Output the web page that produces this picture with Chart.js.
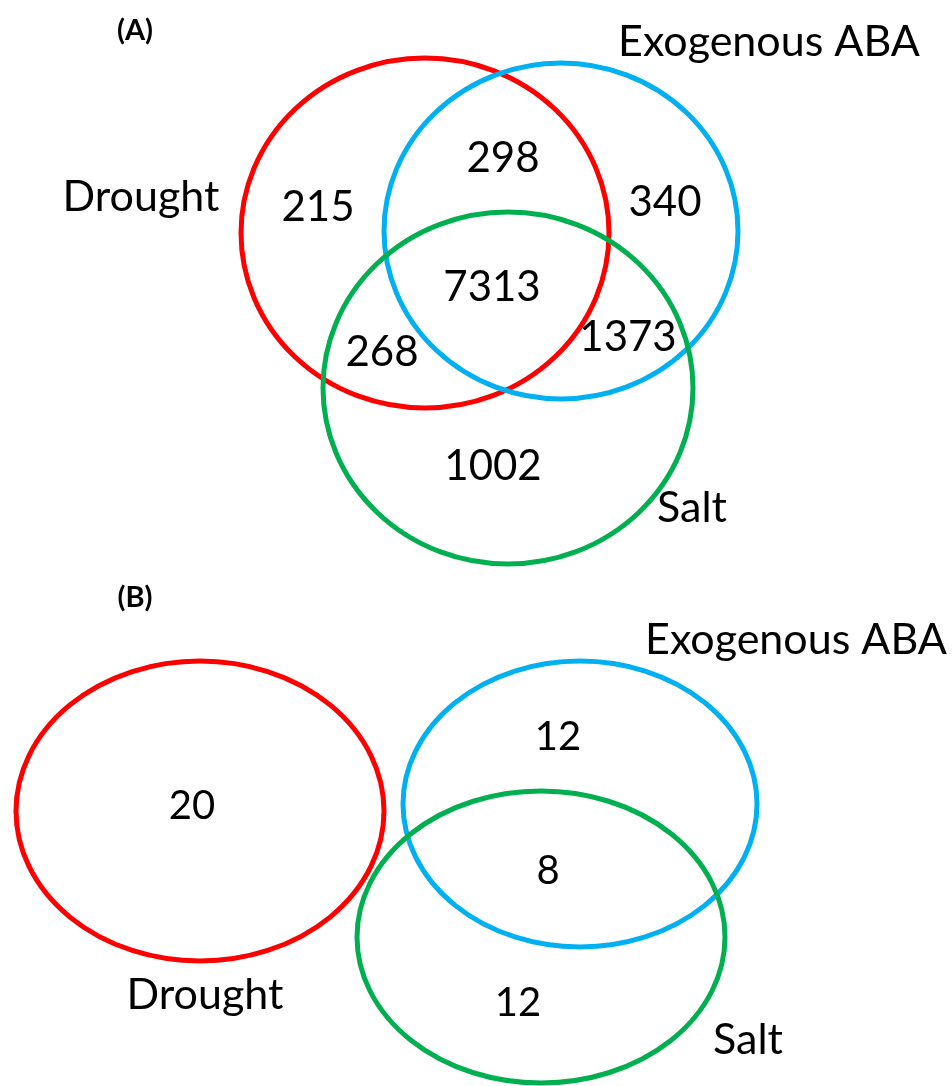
<!DOCTYPE html>
<html>
<head>
<meta charset="utf-8">
<title>Venn diagrams: Drought, Exogenous ABA, Salt</title>
<script src="https://cdn.jsdelivr.net/npm/chart.js@4/dist/chart.umd.min.js"></script>
<style>
  html, body { margin: 0; padding: 0; background: #ffffff; }
  #wrap { width: 952px; height: 1086px; }
</style>
</head>
<body>
<div id="wrap"><canvas id="venn" width="952" height="1086"></canvas></div>
<script>
// ---- data ----
const setNames = ['Drought', 'Exogenous ABA', 'Salt'];
const panelTags = ['(A)', '(B)'];
// Panel A region counts: D only, D∩A, A only, D∩A∩S, D∩S, A∩S, S only
const regionsA = ['D', 'DA', 'A', 'DAS', 'DS', 'AS', 'S'];
const countsA = [215, 298, 340, 7313, 268, 1373, 1002];
// Panel B region counts: D only, A only, A∩S, S only
const regionsB = ['D', 'A', 'AS', 'S'];
const countsB = [20, 12, 8, 12];

// ---- layout (canvas units, y grows downward) ----
const setColors = ['#ff0000', '#00b0f0', '#00b050'];
const ellipsesA = [
  { cx: 425, cy: 233, rx: 184, ry: 175 },
  { cx: 561, cy: 231, rx: 177, ry: 168 },
  { cx: 508, cy: 388, rx: 185, ry: 176 }
];
const ellipsesB = [
  { cx: 200, cy: 811, rx: 184, ry: 150 },
  { cx: 580, cy: 804, rx: 177, ry: 143 },
  { cx: 541, cy: 937, rx: 184, ry: 146 }
];
const countPosA = {
  D: [318, 207], DA: [503, 158], A: [665, 202], DAS: [492, 287],
  DS: [382, 352], AS: [628, 337], S: [493, 466]
};
const countPosB = { D: [192, 806], A: [558, 737], AS: [548, 871], S: [518, 1003] };
const nameposA = [[141, 197], [769, 42], [692, 508]];
const nameposB = [[205, 995], [796, 640], [748, 1040]];
const tagPos = [[135, 31], [135, 598]];

const FONT = 'Lato, "Open Sans", "DejaVu Sans", sans-serif';

function countPoints(keys, counts, pos) {
  return keys.map((k, i) => ({ x: pos[k][0], y: pos[k][1], v: counts[i] }));
}

const vennPlugin = {
  id: 'vennDraw',
  afterDatasetsDraw(chart) {
    const { ctx, scales } = chart;
    const sx = scales.x, sy = scales.y;
    ctx.save();
    // set outlines
    [ellipsesA, ellipsesB].forEach(list => {
      list.forEach((e, i) => {
        const cx = sx.getPixelForValue(e.cx);
        const cy = sy.getPixelForValue(e.cy);
        const rx = Math.abs(sx.getPixelForValue(e.cx + e.rx) - cx);
        const ry = Math.abs(sy.getPixelForValue(e.cy + e.ry) - cy);
        ctx.beginPath();
        ctx.ellipse(cx, cy, rx, ry, 0, 0, Math.PI * 2);
        ctx.lineWidth = 5;
        ctx.strokeStyle = setColors[i];
        ctx.stroke();
      });
    });
    // region counts
    ctx.fillStyle = '#000000';
    ctx.textAlign = 'center';
    ctx.textBaseline = 'middle';
    chart.data.datasets.forEach((ds, di) => {
      const meta = chart.getDatasetMeta(di);
      ctx.font = ds.labelFont;
      meta.data.forEach((pt, j) => {
        ctx.fillText(String(ds.data[j].v), pt.x, pt.y);
      });
    });
    // set names
    ctx.font = '43px ' + FONT;
    [nameposA, nameposB].forEach(list => {
      list.forEach((p, i) => {
        ctx.fillText(setNames[i], sx.getPixelForValue(p[0]), sy.getPixelForValue(p[1]));
      });
    });
    // panel tags
    ctx.font = 'bold 29px ' + FONT;
    tagPos.forEach((p, i) => {
      ctx.fillText(panelTags[i], sx.getPixelForValue(p[0]), sy.getPixelForValue(p[1]));
    });
    ctx.restore();
  }
};

new Chart(document.getElementById('venn'), {
  type: 'scatter',
  data: {
    datasets: [
      { label: 'A', data: countPoints(regionsA, countsA, countPosA), pointRadius: 0, labelFont: '42px ' + FONT },
      { label: 'B', data: countPoints(regionsB, countsB, countPosB), pointRadius: 0, labelFont: '40px ' + FONT }
    ]
  },
  options: {
    responsive: false,
    animation: false,
    layout: { padding: 0 },
    plugins: { legend: { display: false }, tooltip: { enabled: false } },
    scales: {
      x: { type: 'linear', min: 0, max: 952, display: false },
      y: { type: 'linear', min: 0, max: 1086, reverse: true, display: false }
    }
  },
  plugins: [vennPlugin]
});
</script>
</body>
</html>
